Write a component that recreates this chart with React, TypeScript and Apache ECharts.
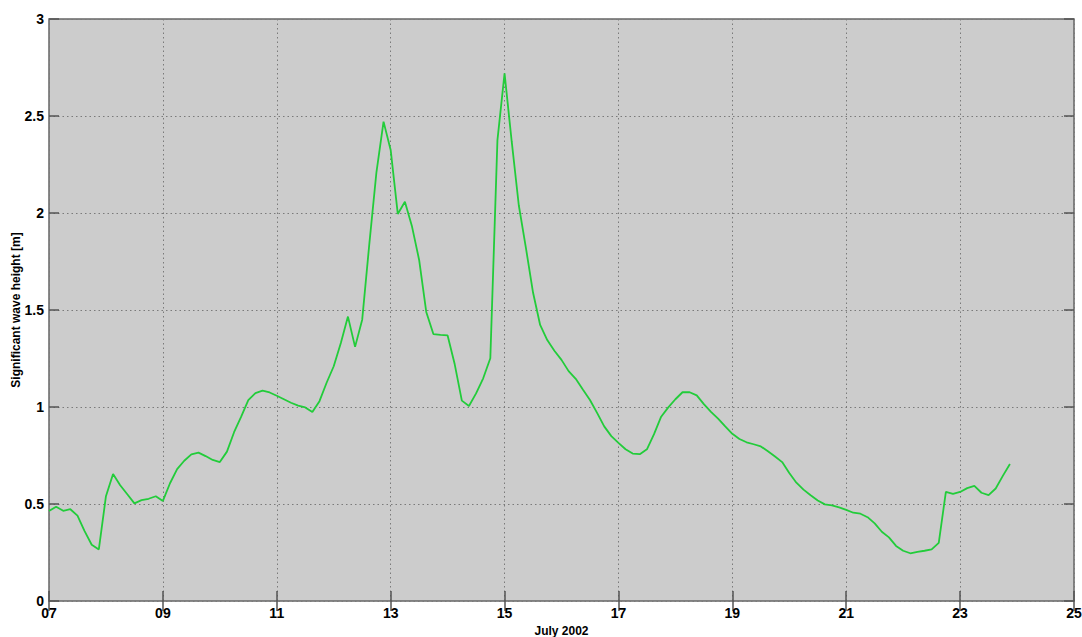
import { useEffect, useRef } from 'react';
import * as echarts from 'echarts';

// Time base: 3-hourly records starting 07 July 2002, 00:00 (values in days of July)
const START_DAY = 7;
const STEP_DAYS = 0.125;

// Significant wave height [m], one value per 3-hour record
const waveHeight = [
  0.464, 0.486, 0.465, 0.473, 0.44, 0.36, 0.29, 0.266, 0.54, 0.655,
  0.597, 0.55, 0.503, 0.52, 0.527, 0.54, 0.516, 0.607, 0.68, 0.723,
  0.756, 0.765, 0.747, 0.727, 0.716, 0.77, 0.87, 0.95, 1.035, 1.072,
  1.084, 1.075, 1.058, 1.04, 1.022, 1.007, 0.998, 0.974, 1.03, 1.125,
  1.21, 1.33, 1.466, 1.31, 1.45, 1.84, 2.21, 2.471, 2.325, 1.995,
  2.058, 1.93, 1.758, 1.49, 1.376, 1.372, 1.369, 1.22, 1.033, 1.005,
  1.07, 1.148, 1.251, 2.376, 2.72, 2.37, 2.04, 1.82, 1.59, 1.423,
  1.345, 1.29, 1.243, 1.185, 1.145, 1.09, 1.036, 0.97, 0.9, 0.85,
  0.815, 0.782, 0.76, 0.757, 0.782, 0.86, 0.95, 0.998, 1.04, 1.076,
  1.076, 1.06, 1.015, 0.975, 0.94, 0.9, 0.862, 0.835, 0.818, 0.808,
  0.797, 0.772, 0.745, 0.716, 0.66, 0.61, 0.574, 0.545, 0.518, 0.498,
  0.493, 0.483, 0.47, 0.455, 0.45, 0.432, 0.4, 0.357, 0.328, 0.284,
  0.259, 0.246, 0.253, 0.259, 0.266, 0.3, 0.563, 0.552, 0.562, 0.582,
  0.593, 0.558, 0.546, 0.58, 0.645, 0.706,
];

// Axis ranges
const xRange = { min: 7, max: 25, interval: 2 };
const yRange = { min: 0, max: 3, interval: 0.5 };

const FONT = 'Liberation Sans, Arial, Helvetica, sans-serif';

export default function App() {
  const ref = useRef<HTMLDivElement>(null);

  useEffect(() => {
    if (!ref.current) return;
    const chart = echarts.init(ref.current, undefined, { renderer: 'svg' });

    const data = waveHeight.map((v, i) => [START_DAY + i * STEP_DAYS, v]);
    const tickStyle = { show: true, inside: true, length: 10, lineStyle: { color: '#555', width: 1.5 } };
    const dotted = { show: true, lineStyle: { color: '#7a7a7a', type: [1.5, 3] as any, width: 1 } };
    const labelStyle = { color: '#000', fontWeight: 'bold' as const, fontSize: 14, fontFamily: FONT };

    chart.setOption({
      animation: false,
      backgroundColor: '#ffffff',
      grid: {
        left: 49,
        right: 8,
        top: 19,
        bottom: 36,
        containLabel: false,
        outerBoundsMode: 'none',
        show: true,
        backgroundColor: '#cccccc',
        borderColor: '#666666',
        borderWidth: 1.5,
      },
      xAxis: [
        {
          type: 'value',
          ...xRange,
          position: 'bottom',
          name: 'July 2002',
          nameLocation: 'middle',
          nameGap: 24,
          nameMoveOverlap: false,
          nameTextStyle: { color: '#000', fontWeight: 'bold', fontSize: 12, fontFamily: FONT },
          axisLine: { show: false },
          axisTick: tickStyle,
          axisLabel: {
            ...labelStyle,
            margin: 5,
            formatter: (v: number) => String(v).padStart(2, '0'),
          },
          splitLine: dotted,
        },
        {
          type: 'value',
          ...xRange,
          position: 'top',
          axisLine: { show: false },
          axisTick: tickStyle,
          axisLabel: { show: false },
          splitLine: { show: false },
        },
      ],
      yAxis: [
        {
          type: 'value',
          ...yRange,
          position: 'left',
          name: 'Significant wave height [m]',
          nameLocation: 'middle',
          nameGap: 27,
          nameMoveOverlap: false,
          nameTextStyle: { color: '#000', fontWeight: 'bold', fontSize: 12, fontFamily: FONT },
          axisLine: { show: false },
          axisTick: tickStyle,
          axisLabel: { ...labelStyle, margin: 5, formatter: (v: number) => String(v) },
          splitLine: dotted,
        },
        {
          type: 'value',
          ...yRange,
          position: 'right',
          axisLine: { show: false },
          axisTick: tickStyle,
          axisLabel: { show: false },
          splitLine: { show: false },
        },
      ],
      series: [
        {
          type: 'line',
          xAxisIndex: 0,
          yAxisIndex: 0,
          data,
          showSymbol: false,
          lineStyle: { color: '#22cc3a', width: 1.8 },
        },
      ],
    });

    return () => chart.dispose();
  }, []);

  return (
    <div
      ref={ref}
      style={{ position: 'absolute', left: 0, top: 0, width: 1082, height: 637 }}
    />
  );
}
